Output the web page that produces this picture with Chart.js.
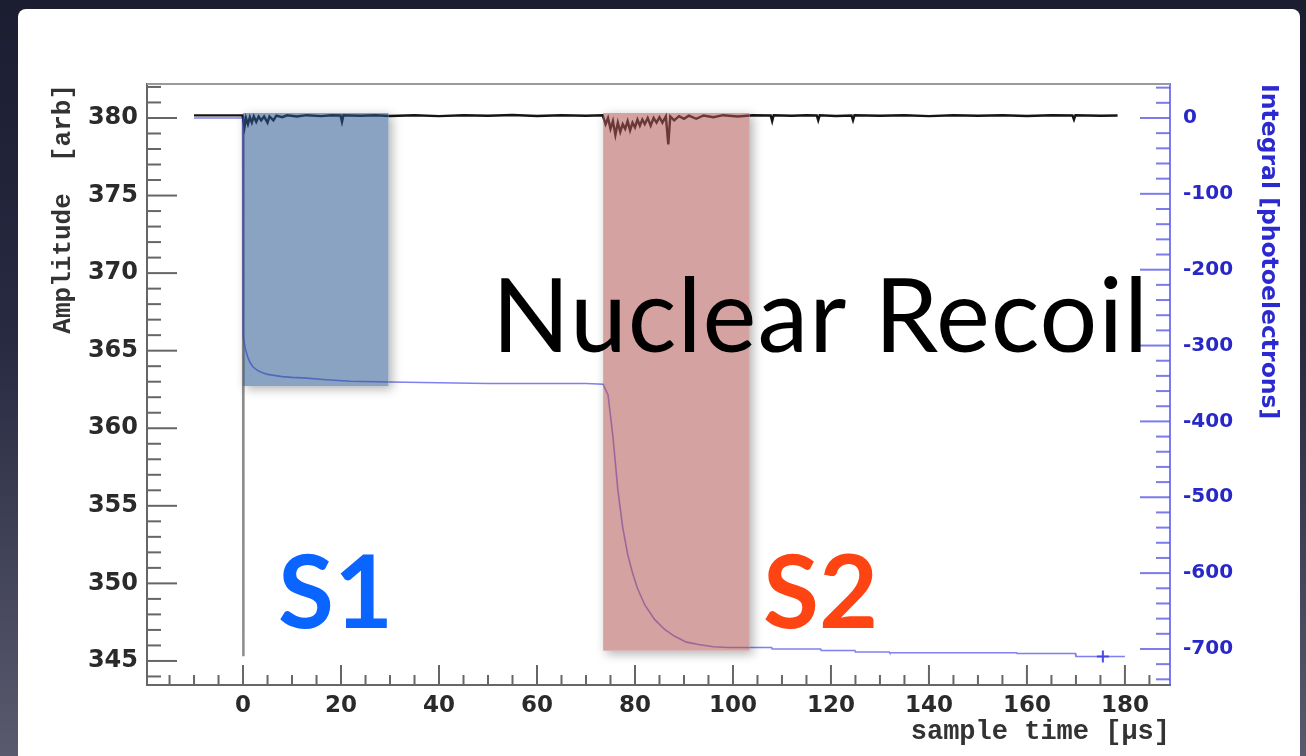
<!DOCTYPE html>
<html>
<head>
<meta charset="utf-8">
<script src="https://cdn.jsdelivr.net/npm/chart.js@4.4.1/dist/chart.umd.min.js"></script>
<style>
  html, body { margin: 0; padding: 0; width: 1306px; height: 756px; overflow: hidden;
    background: linear-gradient(to bottom, #1b1d31 0%, #272a41 45%, #5a5a6e 100%); }
  #panel { position: absolute; left: 18px; top: 9px; width: 1282px; height: 770px; background: #fff; border-radius: 8px; }
  #c { position: absolute; left: 0; top: 0; }
</style>
</head>
<body>
<div id="panel"></div>
<canvas id="c" width="1306" height="756"></canvas>
<script>
// tick labels
const xTicks = [0, 20, 40, 60, 80, 100, 120, 140, 160, 180];
const ampTicks = [345, 350, 355, 360, 365, 370, 375, 380];
const intTicks = [0, -100, -200, -300, -400, -500, -600, -700];

// raw trace, amplitude [arb] vs sample time [us]
const ampTime = [-10, -0.1, 0.3, 0.6, 1.0, 1.4, 1.8, 2.2, 2.7, 3.2, 3.7, 4.3, 5.0, 5.4, 6.2, 6.8, 8, 9, 11, 13, 16, 18,
  19.9, 20.2, 20.5, 24, 27, 30, 35, 40, 45, 50, 55, 60, 65, 70, 73.4,
  74.0, 74.5, 75.0, 75.5, 76.0, 76.5, 77.0, 77.5, 78.0, 78.5, 79.0, 79.5, 80.0, 80.5, 81.0, 81.5, 82.0, 82.6,
  83.2, 83.8, 84.4, 85.0, 85.6, 86.3, 86.8, 87.2, 88, 89, 90, 91, 92.5, 94, 96, 98, 101, 104,
  107.7, 108, 108.3, 112, 115, 117.1, 117.4, 117.7, 121, 124.2, 124.5, 124.8, 130, 135, 140, 145, 150, 155, 160, 165,
  169.3, 169.6, 169.9, 175, 178.5];
const ampValue = [380.17, 380.17, 379.4, 380.0, 379.6, 380.05, 379.7, 380.1, 379.75, 380.1, 379.85, 380.1, 379.7, 380.1, 379.85, 380.15, 380.05, 380.17, 380.1, 380.18, 380.12, 380.18,
  380.16, 379.75, 380.18, 380.14, 380.18, 380.13, 380.18, 380.12, 380.18, 380.14, 380.19, 380.13, 380.18, 380.14, 380.18,
  379.6, 380.0, 379.3, 379.8, 378.9, 379.7, 379.1, 379.6, 379.3, 379.8, 379.2, 379.7, 379.4, 379.9, 379.5, 379.9, 379.6, 380.0,
  379.5, 380.0, 379.7, 380.05, 379.7, 380.1, 378.3, 380.1, 379.85, 380.12, 379.95, 380.15, 379.95, 380.16, 380.05, 380.18, 380.1, 380.18,
  380.16, 379.8, 380.18, 380.14, 380.18, 380.16, 379.85, 380.18, 380.13, 380.16, 379.85, 380.18, 380.14, 380.18, 380.12, 380.18, 380.14, 380.18, 380.13, 380.18,
  380.16, 379.9, 380.18, 380.14, 380.16];

// the S1 pulse itself (one very narrow sample)
const pulseTime = [0, 0, 0.15];
const pulseValue = [380.15, 345.3, 379.6];

// integral [photoelectrons]
const intTime = [-10, 0, 0.05, 0.5, 1, 1.5, 2, 3, 4, 5, 6, 7, 8, 10, 13, 17, 22, 30, 40, 50, 60, 70, 73.5,
  74.5, 75.5, 76.5, 77.5, 78.5, 79.5, 80.5, 82, 84, 86, 88, 90.5, 93, 96, 99, 103,
  107.9, 108, 117.9, 118, 124.9, 125, 131.9, 132, 157.9, 158, 169.9, 170, 180];
const intValue = [0, 0, -289, -305, -316, -323, -328, -333, -336, -338, -339, -340, -341, -342, -343, -345, -347, -348, -349, -350, -350, -350, -351,
  -365, -420, -490, -540, -575, -600, -620, -642, -661, -674, -683, -691, -694, -697, -698, -698,
  -698, -700, -700, -702, -702, -704, -704, -705, -705, -706, -706, -710, -710];
const markerTime = [175.5];
const markerValue = [-710];

// shaded integration windows (x in us, y in amplitude units)
const windowStart = [0, 73.5];
const windowEnd = [29.7, 103.4];
const windowTop = [380.32, 380.32];
const windowBottom = [362.72, 345.66];
const windowColors = ['rgba(42,88,145,0.55)', 'rgba(177,86,82,0.55)'];

const xy = (t, v) => t.map((x, i) => ({ x: x, y: v[i] }));

const frame = {
  id: 'frame',
  beforeDatasetsDraw(chart) {
    const { ctx, chartArea: a, scales } = chart;
    ctx.save();
    ctx.lineWidth = 2;
    ctx.strokeStyle = '#9a9a9a';
    ctx.beginPath();
    ctx.moveTo(a.left, a.top);
    ctx.lineTo(a.right, a.top);
    ctx.stroke();

    ctx.strokeStyle = '#666';
    for (let v = -15; v <= 185; v += 5) {
      const p = scales.x.getPixelForValue(v);
      const len = v % 20 === 0 ? 20 : 10;
      ctx.beginPath(); ctx.moveTo(p, a.bottom); ctx.lineTo(p, a.bottom - len); ctx.stroke();
    }
    for (let v = 344; v <= 382; v += 1) {
      const p = scales.y.getPixelForValue(v);
      const len = v % 5 === 0 ? 30 : 14;
      ctx.beginPath(); ctx.moveTo(a.left, p); ctx.lineTo(a.left + len, p); ctx.stroke();
    }
    ctx.strokeStyle = 'rgba(90,90,230,0.8)';
    for (let v = -740; v <= 40; v += 20) {
      const p = scales.y2.getPixelForValue(v);
      const len = v % 100 === 0 ? 30 : 14;
      ctx.beginPath(); ctx.moveTo(a.right, p); ctx.lineTo(a.right - len, p); ctx.stroke();
    }
    ctx.restore();
  }
};

const windows = {
  id: 'windows',
  afterDatasetsDraw(chart) {
    const { ctx, scales } = chart;
    windowStart.forEach((s, i) => {
      const l = scales.x.getPixelForValue(s);
      const r = scales.x.getPixelForValue(windowEnd[i]);
      const t = scales.y.getPixelForValue(windowTop[i]);
      const b = scales.y.getPixelForValue(windowBottom[i]);
      // soft drop shadow, kept outside the box
      ctx.save();
      ctx.beginPath();
      ctx.rect(0, 0, chart.width, chart.height);
      ctx.rect(l, t, r - l, b - t);
      ctx.clip('evenodd');
      ctx.shadowColor = 'rgba(0,0,0,0.3)';
      ctx.shadowBlur = 10;
      ctx.shadowOffsetX = 3;
      ctx.shadowOffsetY = 3;
      ctx.fillStyle = '#fff';
      ctx.fillRect(l, t, r - l, b - t);
      ctx.restore();
      ctx.save();
      ctx.fillStyle = windowColors[i];
      ctx.fillRect(l, t, r - l, b - t);
      ctx.restore();
    });
  }
};

const labels = {
  id: 'labels',
  afterDraw(chart) {
    const ctx = chart.ctx;
    ctx.save();
    ctx.textBaseline = 'alphabetic';
    ctx.textAlign = 'left';
    ctx.font = '102px Lato';
    ctx.letterSpacing = '1px';
    ctx.fillStyle = '#000';
    ctx.fillText('Nuclear Recoil', 492, 352);
    ctx.letterSpacing = '0px';
    ctx.font = 'bold 102px Lato';
    ctx.fillStyle = '#0a64ff';
    ctx.fillText('S1', 278, 628);
    ctx.fillStyle = '#ff4414';
    ctx.fillText('S2', 763, 628);
    ctx.restore();
  }
};

new Chart(document.getElementById('c'), {
  type: 'line',
  data: {
    datasets: [
      { label: 'Integral', data: xy(intTime, intValue), yAxisID: 'y2', borderColor: 'rgba(60,60,230,0.65)', borderWidth: 1.6, pointRadius: 0 },
      { label: 'Last bin', data: xy(markerTime, markerValue), yAxisID: 'y2', showLine: false, pointStyle: 'cross', pointRadius: 6, borderColor: 'rgba(60,60,230,0.9)', borderWidth: 2 },
      { label: 'Amplitude', data: xy(ampTime, ampValue), yAxisID: 'y', borderColor: '#151515', borderWidth: 2.4, pointRadius: 0 },
      { label: 'S1 pulse', data: xy(pulseTime, pulseValue), yAxisID: 'y', borderColor: 'rgba(120,120,120,0.85)', borderWidth: 2.5, pointRadius: 0 }
    ]
  },
  options: {
    responsive: false,
    animation: false,
    layout: { padding: { top: 84, left: 0, right: 0, bottom: 0 } },
    plugins: { legend: { display: false }, tooltip: { enabled: false } },
    elements: { line: { tension: 0 } },
    scales: {
      x: {
        type: 'linear', min: -19.6, max: 189.2,
        afterBuildTicks: s => { s.ticks = xTicks.map(v => ({ value: v })); },
        afterFit: s => { s.height = 71; },
        grid: { display: false, drawTicks: false },
        border: { display: true, color: '#666', width: 2 },
        ticks: { padding: 7, color: '#2a2a2a', font: { family: 'DejaVu Sans', weight: 'bold', size: 23 }, callback: v => String(v), maxRotation: 0 },
        title: { display: true, text: 'sample time [µs]', align: 'end', color: '#333', font: { family: 'Liberation Mono', weight: 'bold', size: 27 }, padding: { top: 0, bottom: 8 } }
      },
      y: {
        position: 'left', min: 343.45, max: 382.19,
        afterBuildTicks: s => { s.ticks = ampTicks.map(v => ({ value: v })); },
        afterFit: s => { s.width = 147; },
        grid: { display: false, drawTicks: false },
        border: { display: true, color: '#666', width: 2 },
        ticks: { padding: 9, color: '#2a2a2a', font: { family: 'DejaVu Sans', weight: 'bold', size: 24 }, callback: v => String(v) },
        title: { display: true, text: 'Amplitude  [arb]', align: 'end', color: '#333', font: { family: 'Liberation Mono', weight: 'bold', size: 26 }, padding: { top: 48, bottom: 0 } }
      },
      y2: {
        position: 'right', min: -747.5, max: 44.8,
        afterBuildTicks: s => { s.ticks = intTicks.map(v => ({ value: v })); },
        afterFit: s => { s.width = 136; },
        grid: { display: false, drawTicks: false },
        border: { display: true, color: 'rgba(90,90,230,0.8)', width: 2 },
        ticks: { padding: 13, color: '#2828c8', font: { family: 'DejaVu Sans', weight: 'bold', size: 20 }, callback: v => String(v) },
        title: { display: true, text: 'Integral [photoelectrons]', align: 'end', color: '#2a2ad0', font: { family: 'DejaVu Sans', weight: 'bold', size: 23.5 }, padding: { top: 24, bottom: 0 } }
      }
    }
  },
  plugins: [frame, windows, labels]
});
</script>
</body>
</html>
